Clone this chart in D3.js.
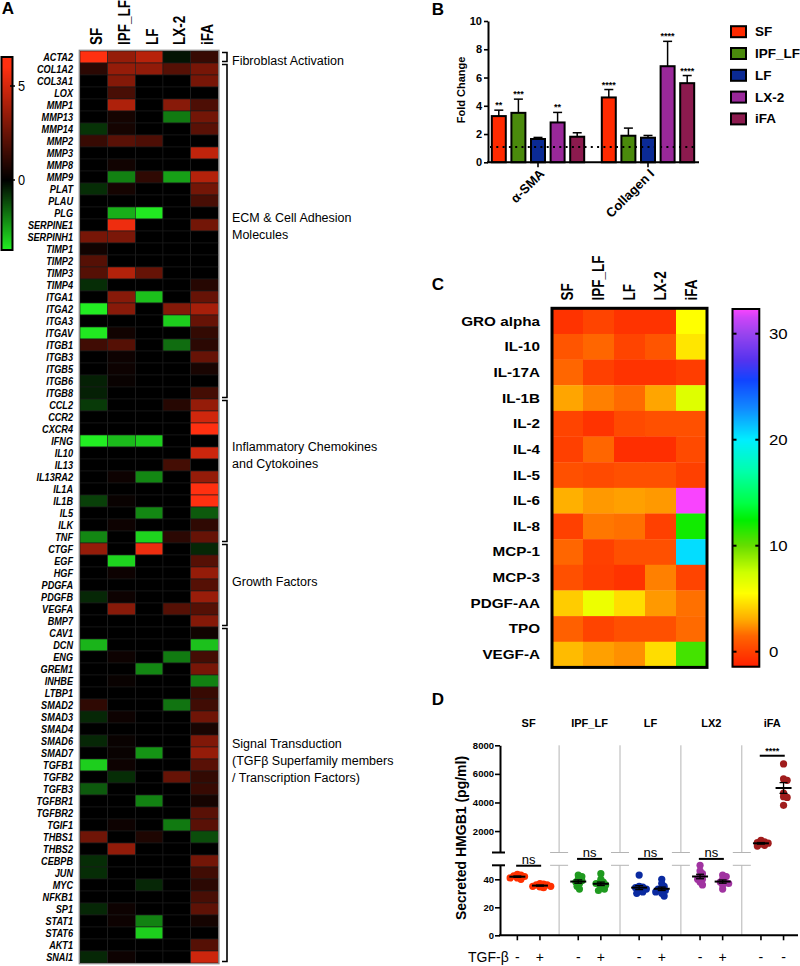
<!DOCTYPE html>
<html><head><meta charset="utf-8">
<script src="https://cdn.jsdelivr.net/npm/d3@7"></script>
<style>
body{margin:0;background:#fff}
svg{display:block}
text{font-family:"Liberation Sans",Arial,Helvetica,sans-serif;fill:#000}
</style>
</head><body>
<svg id="c" width="800" height="966"></svg>
<script>
// ---------------- DATA ----------------
// Panel A
const cellLines = ["SF","IPF_LF","LF","LX-2","iFA"];
const genes = ["ACTA2","COL1A2","COL3A1","LOX","MMP1","MMP13","MMP14","MMP2","MMP3","MMP8","MMP9","PLAT","PLAU","PLG","SERPINE1","SERPINH1","TIMP1","TIMP2","TIMP3","TIMP4","ITGA1","ITGA2","ITGA3","ITGAV","ITGB1","ITGB3","ITGB5","ITGB6","ITGB8","CCL2","CCR2","CXCR4","IFNG","IL10","IL13","IL13RA2","IL1A","IL1B","IL5","ILK","TNF","CTGF","EGF","HGF","PDGFA","PDGFB","VEGFA","BMP7","CAV1","DCN","ENG","GREM1","INHBE","LTBP1","SMAD2","SMAD3","SMAD4","SMAD6","SMAD7","TGFB1","TGFB2","TGFB3","TGFBR1","TGFBR2","TGIF1","THBS1","THBS2","CEBPB","JUN","MYC","NFKB1","SP1","STAT1","STAT6","AKT1","SNAI1"];
const geneValues = [
 [6,3.5,4.3,-0.3,1.3],[1.0,3.5,3.4,2.0,2.8],[0,3.1,0,0,2.8],[0,1.7,0,0,0],[0,4.1,0,3.2,1.8],
 [0,0.5,0,-1.9,2.7],[-0.8,0.5,0,0,2.1],[1.3,2.1,1.8,0,0],[0,0,0,0,4.5],[0,0.4,0,0,0],
 [0,-2.0,1.1,-2.5,4.2],[-0.7,0.5,0,0,2.7],[0,0,0,0,1.7],[0,-2.7,-3.6,0,0],[0,5.6,0,0,2.7],
 [2.8,2.9,0,0,0],[0.4,0,0,0,0],[2.0,0,0,0,0],[2.0,4.2,2.4,0,0],[-0.7,0,0,0,0.9],
 [0,3.2,-3.0,0,2.4],[-3.7,3.2,0,3.1,3.9],[0,0,0,-3.2,2.4],[-3.6,0.4,0,0,1.2],[1.5,2.0,0,-1.7,1.0],
 [0,0.3,0,0,2.4],[0,0.3,0,0,0.6],[-0.5,0.2,0,0,0],[-0.5,0,0,0,1.6],[-0.9,0,0,0.9,3.5],
 [0,0,0,0,4.9],[0,0,0,0,6],[-3.7,-2.9,-3.2,0,0],[0,0,0,0,4.8],[0,0,0,1.6,0],
 [0,0.3,-2.1,0,3.5],[0,0,0,0,6],[-1.0,0.2,0,0,6],[0,0,-2.1,0,-1.4],[0,0.3,0,0,1.1],
 [-2.1,0,-3.3,1.0,2.4],[3.5,0,5.6,0,-0.6],[0,-3.3,0,0,2.0],[0,0.3,0,0,3.5],[0,0,0,0,2.0],
 [-0.6,0.3,0,0,3.6],[0,3.2,0,2.0,2.0],[0,0,0,0,3.1],[0,0,0,0,0.4],[-2.8,0,0,0,-3.0],
 [0,0.3,0,-1.9,1.6],[0,0,-2.1,0,2.8],[0,0.2,0,0,-2.0],[0,0,0,0,1.3],[1.1,0,0,-1.8,1.5],
 [-0.6,0.3,0,0,2.6],[0,0,0,0,0.6],[-0.6,0.2,0,0,3.0],[0,0.2,-2.3,0,3.5],[-3.2,0.3,0,0,2.1],
 [0,-0.7,0,2.4,1.2],[-1.4,0,0,0,1.3],[0,0,-2.0,0,0.5],[0,0,0,0,2.1],[0,0.3,0,-1.9,2.1],
 [2.6,0,0.7,0,-1.2],[0,3.4,0,0,0],[-0.7,0,0,0,2.7],[-0.7,0,0,0,1.5],[0,0,-0.6,0,1.0],
 [0,0,0,0,1.7],[-0.6,0.3,0,0,2.2],[0,0.3,-2.0,0,0.5],[0,0,-3.2,0,0],[0,0,0,0,2.0],
 [-0.6,0.3,0,0,4.8]
];
const geneGroups = [
 {lines:["Fibroblast Activation"], from:"ACTA2", to:"ACTA2", labelRow:0.8},
 {lines:["ECM & Cell Adhesion","Molecules"], from:"COL1A2", to:"ITGB8", labelRow:13.9},
 {lines:["Inflammatory Chemokines","and Cytokoines"], from:"CCL2", to:"TNF", labelRow:33.0},
 {lines:["Growth Factors"], from:"CTGF", to:"BMP7", labelRow:44.25},
 {lines:["Signal Transduction","(TGFβ Superfamily members","/ Transcription Factors)"], from:"CAV1", to:"SNAI1", labelRow:57.75}
];
const aColorTicks = [0,5];

// Panel B
const markersB = ["α-SMA","Collagen I"];
const seriesB = ["SF","IPF_LF","LF","LX-2","iFA"];
const asmaMean = [3.27,3.50,1.65,2.82,1.81];
const asmaErr  = [0.42,0.97,0.11,0.71,0.28];
const asmaStars = ["**","***","","**",""];
const col1Mean = [4.59,1.88,1.74,6.80,5.60];
const col1Err  = [0.56,0.54,0.16,1.76,0.54];
const col1Stars = ["****","","","****","****"];
const bTicks = [0,2,4,6,8,10];
const bBaseline = 1.08;

// Panel C
const cytokines = ["GRO alpha","IL-10","IL-17A","IL-1B","IL-2","IL-4","IL-5","IL-6","IL-8","MCP-1","MCP-3","PDGF-AA","TPO","VEGF-A"];
const cytokineValues = [
 [-0.57,0.16,-0.57,-0.57,5.5],
 [0.83,1.5,0.16,0.83,4.76],
 [1.5,0,-0.57,-0.57,-0.13],
 [2.89,2.07,1.59,2.89,6.8],
 [0.16,-0.57,0.4,0.63,0.63],
 [0,1.5,-0.79,-0.79,0.4],
 [0.63,0.4,0.63,0.63,0],
 [3.18,2.63,2.78,2.63,32.3],
 [0,1.88,1.72,0,12],
 [1.5,0,0.63,0.63,20.5],
 [0.63,-0.13,-0.57,2.07,0.16],
 [4.0,6.2,4.5,2.63,1.72],
 [1.26,0.16,0.63,0.63,1.59],
 [3.5,2.78,2.43,4.5,10.8]
];
const cColorTicks = [0,10,20,30];
const cStops  = [-1.4,0,1.5,3,4.5,5.5,7.5,10,12.4,14,17,20,23,25.6,27.5,30,31.5,32.4];
const cColors = ["#ff2000","#ff4000","#ff6600","#ffaa00","#ffdd00","#ffff00","#ccff00","#66dd00","#00ee00","#00ff44","#00ffaa","#00eeff","#1188ff","#1144ff","#5533ee","#9944ee","#cc44f8","#ff44ff"];

// Panel D
const hmgbGroups = ["SF","IPF_LF","LF","LX2","iFA"];
const tgfLabels = ["-","+","-","+","-","+","-","+","-","-"];
const sfMinus  = [43,42,41,42.5,41,40,43.5];
const sfPlus   = [37,36,35,34.5,36.5,35,34,36];
const ipfMinus = [43,42,40,38,37,35,33,39];
const ipfPlus  = [44,40,38,37,36,34,33,32,37];
const lfMinus  = [43,35,34,33,32,31,30,34.5];
const lfPlus   = [40,37,35,33,32,31,30,28,33];
const lx2Minus = [50,46,44,42,40,38,36,40];
const lx2Plus  = [43,42,40,38,37,36,33,38];
const ifaMinus = [1350,1250,1200,1150,1100,1000,950];
const ifaPlus  = [6700,5650,5550,4650,4400,4350,3800];
const dUpperTicks = [2000,4000,6000,8000];
const dLowerTicks = [0,20,40];
const dSignif = [{g:"SF",label:"ns",level:49.7},{g:"IPF_LF",label:"ns",level:52.6},{g:"LF",label:"ns",level:54.3},{g:"LX2",label:"ns",level:51.9},{g:"iFA",label:"****",level:7270}];

// ---------------- DRAW ----------------
const svg = d3.select("#c");
const txt = (g, s, opts) => {
  const t = g.append("text").text(s);
  for (const k in opts) {
    if (["font-size","font-weight","font-style","fill"].includes(k)) t.style(k, opts[k]); else t.attr(k, opts[k]);
  }
  return t;
};

// Panel letters
[["A",8,14],["B",438,15],["C",438,290],["D",438,705]].forEach(([l,x,y]) =>
  txt(svg, l, {x, y, "text-anchor":"middle", "font-size":"17px", "font-weight":"bold"}));

// ===== Panel A =====
const gA = svg.append("g");
const ax = d3.scaleBand().domain(cellLines).range([80, 218.3]);
const ay = d3.scaleBand().domain(genes).range([51, 51 + 12 * genes.length]);
const aColor = d3.scaleLinear().domain([-3.7, 0, 6]).range(["#22ee22", "#000000", "#ff3010"]).clamp(true);

genes.forEach((g, i) => cellLines.forEach((c, j) => {
  gA.append("rect").attr("x", ax(c)).attr("y", ay(g)).attr("width", ax.bandwidth()).attr("height", ay.bandwidth())
    .attr("fill", aColor(geneValues[i][j])).attr("stroke", "#1c1c1c").attr("stroke-width", 0.6);
}));
gA.append("rect").attr("x", 79.3).attr("y", 50.3).attr("width", 139.7).attr("height", ay.range()[1] - 49.6)
  .attr("fill", "none").attr("stroke", "#8c8c8c").attr("stroke-width", 1.3);

genes.forEach(g => txt(gA, g, {transform:`translate(73,${ay(g) + ay.bandwidth()/2}) scale(0.83,1)`,
  "text-anchor":"end", "dominant-baseline":"central", "font-size":"11px", "font-weight":"bold", "font-style":"italic"}));

cellLines.forEach(c => txt(gA, c, {transform:`translate(${ax(c) + ax.bandwidth()/2 + 3},45) scale(1.2,1) rotate(-90)`,
  "text-anchor":"start", "dominant-baseline":"central", "font-size":"13.5px", "font-weight":"bold"}));

// colour bar A
const aCbY = d3.scaleLinear().domain([0, 5]).range([180, 86]);
const aTop = 57, aBot = 250;
for (let py = aTop; py < aBot; py++) {
  gA.append("rect").attr("x", 1.5).attr("y", py).attr("width", 11).attr("height", 1.3).attr("fill", aColor(aCbY.invert(py + 0.5)));
}
gA.append("rect").attr("x", 1.5).attr("y", aTop).attr("width", 11).attr("height", aBot - aTop)
  .attr("fill", "none").attr("stroke", "#000").attr("stroke-width", 2);
aColorTicks.forEach(v => {
  gA.append("line").attr("x1", 10).attr("x2", 15).attr("y1", aCbY(v)).attr("y2", aCbY(v)).attr("stroke", "#000").attr("stroke-width", 1.5);
  txt(gA, String(v), {transform:`translate(18,${aCbY(v)}) scale(0.85,1)`, "dominant-baseline":"central", "font-size":"15px"});
});

// brackets
geneGroups.forEach(gr => {
  const y0 = ay(gr.from) + 1.5, y1 = ay(gr.to) + ay.bandwidth() - 1.5;
  gA.append("path").attr("d", `M222,${y0}H227V${y1}H222`).attr("fill", "none").attr("stroke", "#000").attr("stroke-width", 1.6);
  gr.lines.forEach((l, k) => txt(gA, l, {x:232, y: 51 + gr.labelRow * 12 + k * 17, "dominant-baseline":"central", "font-size":"12.5px"}));
});

// ===== Panel B =====
const gB = svg.append("g");
const yB = d3.scaleLinear().domain([0, 10]).range([162.3, 21]);
const x0B = d3.scaleBand().domain(markersB).range([483, 703]);
const x1B = d3.scaleBand().domain(seriesB).range([0, x0B.bandwidth()]).paddingInner(0.286).paddingOuter(0.449);
const colB = d3.scaleOrdinal().domain(seriesB).range(["#ff2a00", "#4a8a0c", "#0b2a94", "#99289a", "#8c1a4e"]);
const bData = [
  {m: markersB[0], mean: asmaMean, err: asmaErr, stars: asmaStars},
  {m: markersB[1], mean: col1Mean, err: col1Err, stars: col1Stars}
];
bData.forEach(d => seriesB.forEach((s, i) => {
  const x = x0B(d.m) + x1B(s), w = x1B.bandwidth(), cx = x + w / 2;
  const top = yB(d.mean[i] + d.err[i]);
  gB.append("line").attr("x1", cx).attr("x2", cx).attr("y1", yB(d.mean[i])).attr("y2", top).attr("stroke", "#000").attr("stroke-width", 1.5);
  gB.append("line").attr("x1", cx - 4.5).attr("x2", cx + 4.5).attr("y1", top).attr("y2", top).attr("stroke", "#000").attr("stroke-width", 1.5);
  gB.append("rect").attr("x", x).attr("y", yB(d.mean[i])).attr("width", w).attr("height", yB(0) - yB(d.mean[i]))
    .attr("fill", colB(s)).attr("stroke", "#000").attr("stroke-width", 2);
  if (d.stars[i]) txt(gB, d.stars[i], {x: cx, y: top - 2, "text-anchor":"middle", "font-size":"9px", "font-weight":"bold"});
}));
// dotted baseline
gB.append("line").attr("x1", 490).attr("x2", 697).attr("y1", yB(bBaseline)).attr("y2", yB(bBaseline))
  .attr("stroke", "#000").attr("stroke-width", 2).attr("stroke-dasharray", "2,4.3");
// axes
const axB = gB.append("g").attr("transform", "translate(488,0)")
  .call(d3.axisLeft(yB).tickValues(bTicks).tickSize(4).tickSizeOuter(0).tickPadding(2));
axB.select(".domain").attr("stroke-width", 2);
axB.selectAll(".tick line").attr("stroke-width", 1.6);
axB.selectAll(".tick text").style("font-size", "11px").style("font-weight", "bold").attr("font-family", null);
gB.append("line").attr("x1", 487).attr("x2", 699).attr("y1", yB(0)).attr("y2", yB(0)).attr("stroke", "#000").attr("stroke-width", 2);
markersB.forEach(m => {
  const cx = x0B(m) + x0B.bandwidth() / 2;
  gB.append("line").attr("x1", cx).attr("x2", cx).attr("y1", yB(0)).attr("y2", yB(0) + 5).attr("stroke", "#000").attr("stroke-width", 1.6);
  txt(gB, m, {transform:`translate(${cx + 4},${yB(0) + 9}) rotate(-45)`, "text-anchor":"end", "dominant-baseline":"central", "font-size":"13px", "font-weight":"bold"});
});
txt(gB, "Fold Change", {transform:"translate(461,90) rotate(-90)", "text-anchor":"middle", "dominant-baseline":"central", "font-size":"11px", "font-weight":"bold"});
// legend
seriesB.forEach((s, i) => {
  const cy = 31.7 + i * 21.8;
  gB.append("rect").attr("x", 731).attr("y", cy - 5.5).attr("width", 15).attr("height", 11).attr("fill", colB(s)).attr("stroke", "#000").attr("stroke-width", 2);
  txt(gB, s, {x: 755, y: cy, "dominant-baseline":"central", "font-size":"13.5px", "font-weight":"bold"});
});

// ===== Panel C =====
const gC = svg.append("g");
const cx = d3.scaleBand().domain(cellLines).range([552, 707]);
const cy = d3.scaleBand().domain(cytokines).range([308.3, 667.4]);
const cColor = d3.scaleLinear().domain(cStops).range(cColors).clamp(true);
cytokines.forEach((k, i) => cellLines.forEach((c, j) => {
  gC.append("rect").attr("x", cx(c)).attr("y", cy(k)).attr("width", cx.bandwidth() + 0.3).attr("height", cy.bandwidth() + 0.3)
    .attr("fill", cColor(cytokineValues[i][j]));
}));
gC.append("rect").attr("x", 552).attr("y", 308.3).attr("width", 155).attr("height", 359.1)
  .attr("fill", "none").attr("stroke", "#000").attr("stroke-width", 3);
cytokines.forEach(k => txt(gC, k, {transform:`translate(540,${cy(k) + cy.bandwidth()/2}) scale(1.22,1)`,
  "text-anchor":"end", "dominant-baseline":"central", "font-size":"12.5px", "font-weight":"bold"}));
cellLines.forEach(c => txt(gC, c, {transform:`translate(${cx(c) + cx.bandwidth()/2 - 1},300.5) scale(1.25,1) rotate(-90)`,
  "text-anchor":"start", "dominant-baseline":"central", "font-size":"13.5px", "font-weight":"bold"}));
// colour bar C
const cCbY = d3.scaleLinear().domain([0, 10]).range([651.7, 545.7]);
const cTop = 309, cBot = 666.7;
for (let py = cTop; py < cBot; py++) {
  gC.append("rect").attr("x", 732.5).attr("y", py).attr("width", 26.8).attr("height", 1.3).attr("fill", cColor(cCbY.invert(py + 0.5)));
}
gC.append("rect").attr("x", 732.5).attr("y", cTop).attr("width", 26.8).attr("height", cBot - cTop)
  .attr("fill", "none").attr("stroke", "#000").attr("stroke-width", 2);
cColorTicks.forEach(v => {
  const y = cCbY(v);
  gC.append("line").attr("x1", 732.5).attr("x2", 736.5).attr("y1", y).attr("y2", y).attr("stroke", "#000").attr("stroke-width", 2);
  gC.append("line").attr("x1", 755.3).attr("x2", 759.3).attr("y1", y).attr("y2", y).attr("stroke", "#000").attr("stroke-width", 2);
  txt(gC, String(v), {transform:`translate(769,${y}) scale(1.2,1)`, "dominant-baseline":"central", "font-size":"14px"});
});

// ===== Panel D =====
const gD = svg.append("g");
const yUp = d3.scaleLinear().domain([500, 8000]).range([852.5, 745.3]);
const yLo = d3.scaleLinear().domain([0, 50]).range([935.3, 865.3]);
const yD = v => v > 50 ? yUp(v) : yLo(v);
const xD = d3.scaleBand().domain(hmgbGroups).range([498.2, 802.7]);
const colD = d3.scaleOrdinal().domain(hmgbGroups).range(["#ff3000", "#1f9a1f", "#0a2aa0", "#a033a0", "#a01c1c"]);
const condData = [
  {g:"SF", vals:sfMinus}, {g:"SF", vals:sfPlus},
  {g:"IPF_LF", vals:ipfMinus}, {g:"IPF_LF", vals:ipfPlus},
  {g:"LF", vals:lfMinus}, {g:"LF", vals:lfPlus},
  {g:"LX2", vals:lx2Minus}, {g:"LX2", vals:lx2Plus},
  {g:"iFA", vals:ifaMinus}, {g:"iFA", vals:ifaPlus}
];
condData.forEach((d, i) => { d.x = xD(d.g) + xD.bandwidth() / 2 + (i % 2 ? 11.3 : -11.3); });

// separators with break marks
hmgbGroups.slice(1).forEach(g => {
  const x = xD(g);
  [[x, x, yUp.range()[1], yUp.range()[0]], [x, x, yLo.range()[1], yLo.range()[0]],
   [x - 9, x + 9, yUp.range()[0], yUp.range()[0]], [x - 9, x + 9, yLo.range()[1], yLo.range()[1]]].forEach(([x1, x2, y1, y2]) =>
    gD.append("line").attr("x1", x1).attr("x2", x2).attr("y1", y1).attr("y2", y2).attr("stroke", "#b4b4b4").attr("stroke-width", 1));
});

// axes
const styleAxis = a => {
  a.select(".domain").attr("stroke-width", 2);
  a.selectAll(".tick line").attr("stroke-width", 1.6);
  a.selectAll(".tick text").style("font-size", "9.5px").style("font-weight", "bold").attr("font-family", null);
};
styleAxis(gD.append("g").attr("transform", "translate(500,0)").call(d3.axisLeft(yUp).tickValues(dUpperTicks).tickSize(5).tickSizeOuter(0).tickPadding(1).tickFormat(d3.format("d"))));
styleAxis(gD.append("g").attr("transform", "translate(500,0)").call(d3.axisLeft(yLo).tickValues(dLowerTicks).tickSize(5).tickSizeOuter(0).tickPadding(1)));
[yUp.range()[0], yLo.range()[1]].forEach(y =>
  gD.append("line").attr("x1", 492).attr("x2", 505).attr("y1", y).attr("y2", y).attr("stroke", "#000").attr("stroke-width", 2));
gD.append("line").attr("x1", 499).attr("x2", 798).attr("y1", yLo(0)).attr("y2", yLo(0)).attr("stroke", "#000").attr("stroke-width", 2);
condData.forEach((d, i) => {
  gD.append("line").attr("x1", d.x).attr("x2", d.x).attr("y1", yLo(0)).attr("y2", yLo(0) + 5).attr("stroke", "#000").attr("stroke-width", 1.6);
  txt(gD, tgfLabels[i], {x: d.x, y: 957, "text-anchor":"middle", "dominant-baseline":"central", "font-size":"14px"});
});
txt(gD, "TGF-β", {x: 468, y: 957, "dominant-baseline":"central", "font-size":"14px"});
txt(gD, "Secreted HMGB1 (pg/ml)", {transform:"translate(461,838) rotate(-90)", "text-anchor":"middle", "dominant-baseline":"central", "font-size":"14px", "font-weight":"bold"});
hmgbGroups.forEach(g => txt(gD, g, {x: xD(g) + xD.bandwidth() / 2, y: 723, "text-anchor":"middle", "dominant-baseline":"central", "font-size":"11px", "font-weight":"bold"}));

// swarm points
function swarm(vals, cxp) {
  const pts = vals.map(v => ({v, y: yD(v)})).sort((a, b) => a.y - b.y);
  const placed = [];
  pts.forEach(p => {
    for (let k = 0; k < 60; k++) {
      const off = (k % 2 ? 1 : -1) * Math.ceil(k / 2) * 1.2;
      const x = cxp + off;
      if (placed.every(q => Math.hypot(q.x - x, q.y - p.y) >= 3.4)) { p.x = x; placed.push(p); break; }
    }
  });
  return placed;
}
condData.forEach(d => {
  swarm(d.vals, d.x).forEach(p => gD.append("circle").attr("cx", p.x).attr("cy", p.y).attr("r", 3.6).attr("fill", colD(d.g)));
  const mean = d3.mean(d.vals), sem = d3.deviation(d.vals) / Math.sqrt(d.vals.length);
  const ym = yD(mean), y1 = yD(mean - sem), y2 = yD(mean + sem);
  gD.append("line").attr("x1", d.x - 8).attr("x2", d.x + 8).attr("y1", ym).attr("y2", ym).attr("stroke", "#000").attr("stroke-width", 2);
  gD.append("line").attr("x1", d.x).attr("x2", d.x).attr("y1", y1).attr("y2", y2).attr("stroke", "#000").attr("stroke-width", 1.3);
  [y1, y2].forEach(y => gD.append("line").attr("x1", d.x - 4).attr("x2", d.x + 4).attr("y1", y).attr("y2", y).attr("stroke", "#000").attr("stroke-width", 1.3));
});
// significance
dSignif.forEach(s => {
  const c = xD(s.g) + xD.bandwidth() / 2;
  const y = s.level > 50 ? yUp(s.level) : yLo(s.level);
  gD.append("line").attr("x1", c - 12.5).attr("x2", c + 12.5).attr("y1", y).attr("y2", y).attr("stroke", "#000").attr("stroke-width", 2);
  if (s.label === "ns") txt(gD, s.label, {x: c, y: y - 2, "text-anchor":"middle", "font-size":"13px"});
  else txt(gD, s.label, {x: c, y: y - 2, "text-anchor":"middle", "font-size":"9px", "font-weight":"bold"});
});
</script>
</body></html>
